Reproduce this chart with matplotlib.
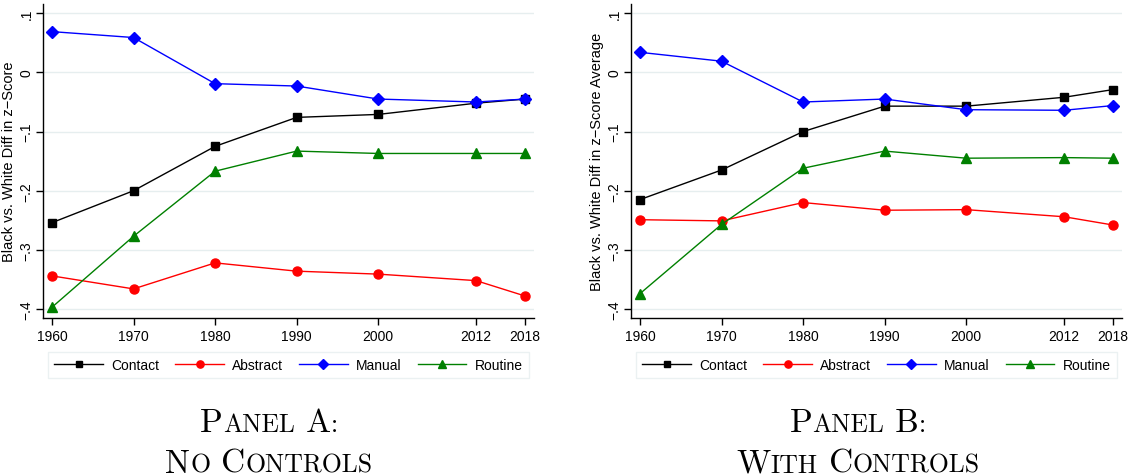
import numpy as np
import matplotlib
matplotlib.use("Agg")
import matplotlib.pyplot as plt
from matplotlib.offsetbox import TextArea, HPacker, VPacker, AnnotationBbox

plt.rcParams['font.family'] = ['Liberation Sans', 'DejaVu Sans']
plt.rcParams['axes.unicode_minus'] = True

years = [1960, 1970, 1980, 1990, 2000, 2012, 2018]

# Panel A: no controls
contact_a = [-0.254, -0.200, -0.125, -0.076, -0.071, -0.052, -0.045]
abstract_a = [-0.344, -0.366, -0.322, -0.336, -0.341, -0.352, -0.378]
manual_a = [0.069, 0.059, -0.019, -0.023, -0.045, -0.050, -0.045]
routine_a = [-0.397, -0.277, -0.167, -0.133, -0.137, -0.137, -0.137]

# Panel B: with controls
contact_b = [-0.215, -0.165, -0.100, -0.057, -0.057, -0.042, -0.029]
abstract_b = [-0.249, -0.251, -0.220, -0.233, -0.232, -0.244, -0.258]
manual_b = [0.034, 0.019, -0.050, -0.045, -0.063, -0.064, -0.056]
routine_b = [-0.374, -0.257, -0.162, -0.133, -0.145, -0.144, -0.145]

yticks = [0.1, 0, -0.1, -0.2, -0.3, -0.4]
ytick_labels = [".1", "0", "\u2212.1", "\u2212.2", "\u2212.3", "\u2212.4"]

series_style = [
    ("Contact", "black", "s", 6.0),
    ("Abstract", "red", "o", 6.5),
    ("Manual", "blue", "D", 6.0),
    ("Routine", "green", "^", 7.0),
]

W, H = 1133, 477
fig = plt.figure(figsize=(W / 100, H / 100), dpi=100)


def draw_panel(ax, data, ylabel):
    for (name, col, mk, ms), vals in zip(series_style, data):
        ax.plot(years, vals, color=col, marker=mk, markersize=ms, lw=1.0,
                label=name, zorder=3)
    ax.set_xlim(1958.9, 2019.1)
    ax.set_ylim(-0.4157, 0.1157)
    ax.set_xticks(years)
    ax.set_yticks(yticks)
    ax.set_yticklabels(ytick_labels, rotation=90, va="center")
    ax.tick_params(axis="both", labelsize=10, length=5, width=1, color="black")
    ax.tick_params(axis="y", pad=2)
    ax.tick_params(axis="x", pad=3)
    ax.grid(axis="y", color="#e6eeef", lw=1.0, zorder=0)
    for s in ("top", "right"):
        ax.spines[s].set_visible(False)
    for s in ("left", "bottom"):
        ax.spines[s].set_linewidth(1.0)
    ax.set_ylabel(ylabel, fontsize=10.5, labelpad=2)
    leg = ax.legend(loc="upper center", bbox_to_anchor=(0.5, -0.085), ncol=4,
                    fontsize=10, frameon=True, fancybox=False, markerscale=0.8,
                    handlelength=3.5, handletextpad=0.6, columnspacing=1.15,
                    borderpad=0.45, edgecolor="#e6eeef")
    leg.get_frame().set_linewidth(1.0)
    return leg


ax_a = fig.add_axes([43 / W, 1 - 319.3 / H, 491 / W, 314.3 / H])
ax_b = fig.add_axes([631 / W, 1 - 319.3 / H, 491 / W, 314.3 / H])
draw_panel(ax_a, [contact_a, abstract_a, manual_a, routine_a],
           "Black vs. White Diff in z\u2212Score")
draw_panel(ax_b, [contact_b, abstract_b, manual_b, routine_b],
           "Black vs. White Diff in z\u2212Score Average")


def small_caps(words, big=24, small=18.5):
    # fake small caps: first letter full size, rest upper-case at a smaller size
    parts = []
    for i, w in enumerate(words):
        txt = w if i == 0 else " " + w
        lead = txt[: len(txt) - len(w) + 1]
        rest = w[1:]
        parts.append(TextArea(lead, textprops=dict(family="cmr10", size=big)))
        if rest:
            parts.append(TextArea(rest.upper(),
                                  textprops=dict(family="cmr10", size=small)))
    return HPacker(children=parts, align="baseline", pad=0, sep=0)


def panel_title(x_px, line1, line2):
    box = VPacker(children=[small_caps(line1), small_caps(line2)],
                  align="center", pad=0, sep=8)
    ab = AnnotationBbox(box, (x_px / W, 1 - 444 / H), xycoords="figure fraction",
                        frameon=False, box_alignment=(0.5, 0.5))
    fig.add_artist(ab)


panel_title(269, ["Panel", "A:"], ["No", "Controls"])
panel_title(858, ["Panel", "B:"], ["With", "Controls"])

fig.savefig("out.png", dpi=100)
